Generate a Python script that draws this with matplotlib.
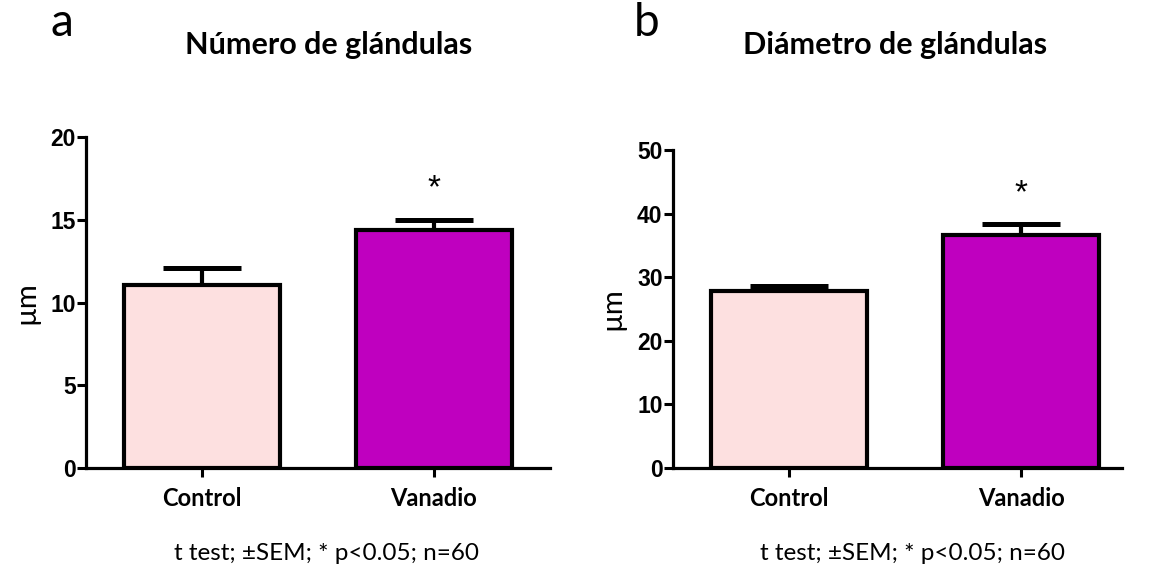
import matplotlib
matplotlib.use("Agg")
import matplotlib.pyplot as plt

# Data
groups = ["Control", "Vanadio"]
numero_mean = [11.05, 14.38]
numero_sem = [1.03, 0.6]
diametro_mean = [27.8, 36.6]
diametro_sem = [0.75, 1.75]
colors = ["#FDE0E0", "#BF00BF"]

titles = ["Número de glándulas", "Diámetro de glándulas"]
panel_letters = ["a", "b"]
y_max = [20, 50]
y_step = [5, 10]
footer = "t test; \u00b1SEM; * p<0.05; n=60"

W, H = 1149, 571
fig = plt.figure(figsize=(W / 100, H / 100), dpi=100)


def px_axes(x0, y0, x1, y1):
    return fig.add_axes([x0 / W, 1 - y1 / H, (x1 - x0) / W, (y1 - y0) / H])


axes = [px_axes(86, 137, 550, 468), px_axes(673, 150, 1122, 468)]
xlims = [(-0.5, 1.5), (-0.5, 1.435)]
means = [numero_mean, diametro_mean]
sems = [numero_sem, diametro_sem]
title_x = [329, 895]
footer_x = [326, 912]
letter_x = [51, 634]
sans = ["Lato", "DejaVu Sans"]

for i, ax in enumerate(axes):
    x = list(range(len(groups)))
    ax.bar(x, means[i], width=0.67, color=colors, edgecolor="black",
           linewidth=3, zorder=2)
    ax.errorbar(x, means[i], yerr=[[0, 0], sems[i]], fmt="none",
                ecolor="black", elinewidth=3, capsize=28, capthick=3.6,
                zorder=1)
    # significance star above the Vanadio bar
    ax.text(1, means[i][1] + sems[i][1] + y_max[i] * 0.095, "*",
            ha="center", va="center", fontsize=24,
            family="Liberation Sans")
    ax.set_xlim(*xlims[i])
    ax.set_ylim(0, y_max[i])
    ax.set_yticks(range(0, y_max[i] + 1, y_step[i]))
    ax.set_xticks(x)
    ax.set_xticklabels(groups, family=sans, fontweight="bold", fontsize=17)
    for lab in ax.get_yticklabels():
        lab.set_family("Liberation Sans")
        lab.set_fontweight("bold")
        lab.set_fontsize(16.5)
    ax.tick_params(axis="y", length=6.5, width=2.2, pad=1)
    ax.tick_params(axis="x", length=6.5, width=2.2, pad=7)
    for s in ["top", "right"]:
        ax.spines[s].set_visible(False)
    for s in ["left", "bottom"]:
        ax.spines[s].set_linewidth(2.3)
    ax.set_ylabel("µm", fontsize=21, family=sans, labelpad=8)

    fig.text(title_x[i] / W, 1 - 45 / H, titles[i], ha="center", va="center",
             family=sans, fontweight="bold", fontsize=22)
    fig.text(letter_x[i] / W, 1 - 23 / H, panel_letters[i], ha="left",
             va="center", family=sans, fontsize=33)
    fig.text(footer_x[i] / W, 1 - 554 / H, footer, ha="center", va="center",
             family=sans, fontsize=17.5)

fig.savefig("out.png", dpi=100)
